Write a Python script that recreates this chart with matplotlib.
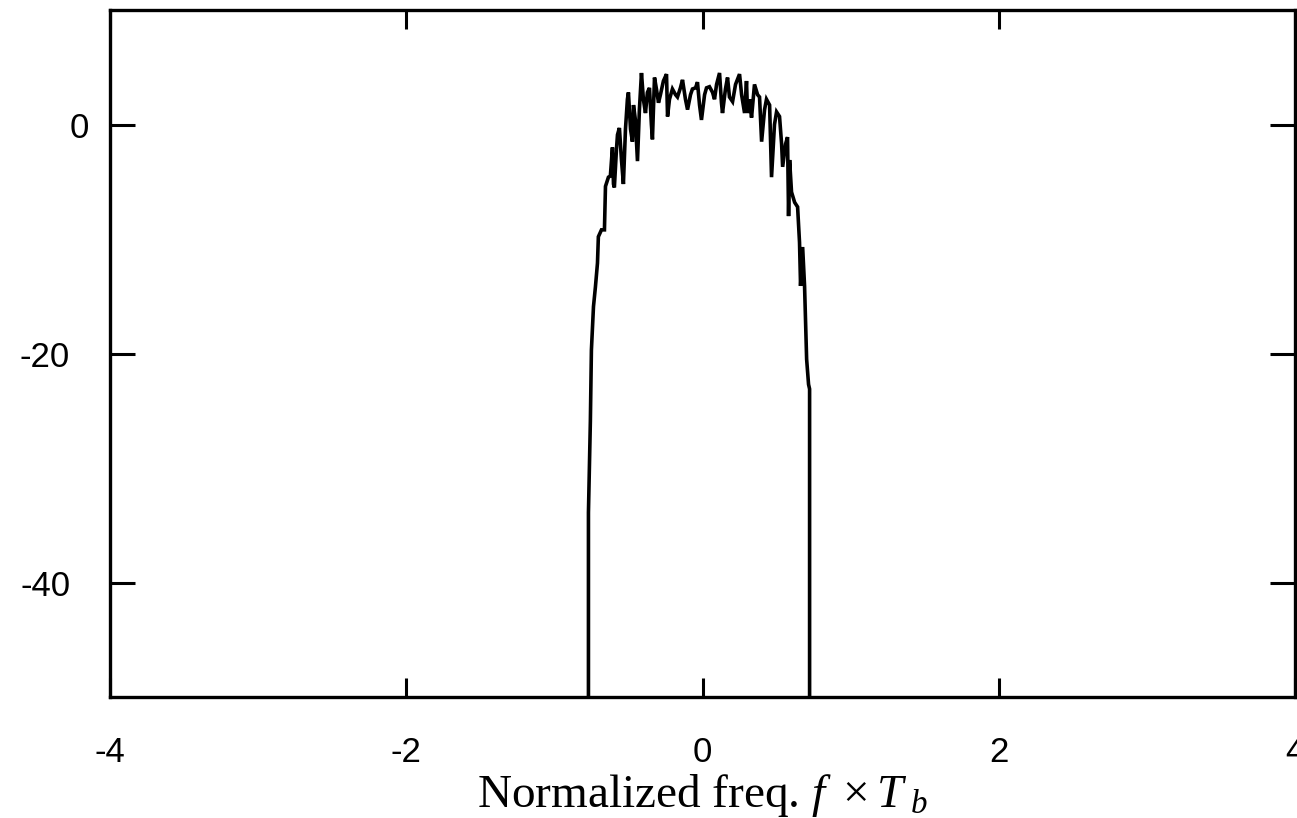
import numpy as np
import matplotlib.pyplot as plt
from matplotlib.transforms import ScaledTranslation

# spectrum (normalized freq, dB)
freq = [-0.770, -0.770, -0.757, -0.750, -0.736, -0.723, -0.709, -0.703, -0.682, -0.662,
        -0.655, -0.635, -0.622, -0.608, -0.601, -0.595, -0.581, -0.574, -0.561, -0.547,
        -0.534, -0.520, -0.507, -0.500, -0.486, -0.473, -0.466, -0.453, -0.439, -0.426,
        -0.412, -0.399, -0.385, -0.372, -0.358, -0.345, -0.338, -0.324, -0.311, -0.297,
        -0.284, -0.264, -0.243, -0.236, -0.223, -0.203, -0.182, -0.169, -0.149, -0.135,
        -0.115, -0.101, -0.081, -0.068, -0.047, -0.034, -0.020, -0.007, 0.014, 0.027,
        0.047, 0.068, 0.081, 0.095, 0.115, 0.128, 0.135, 0.155, 0.169, 0.182,
        0.203, 0.223, 0.250, 0.264, 0.284, 0.297, 0.304, 0.318, 0.331, 0.351,
        0.372, 0.385, 0.399, 0.419, 0.432, 0.453, 0.466, 0.486, 0.500, 0.520,
        0.534, 0.541, 0.561, 0.574, 0.581, 0.588, 0.601, 0.622, 0.642, 0.655,
        0.662, 0.676, 0.689, 0.696, 0.703, 0.716, 0.723, 0.723]
psd_db = [-60.0, -33.9, -25.9, -19.7, -15.9, -14.2, -12.1, -9.8, -9.2, -9.2,
          -5.4, -4.6, -4.5, -2.0, -5.2, -5.5, -2.2, -0.9, -0.3, -3.1,
          -5.2, -0.4, 2.2, 2.8, -0.4, -1.5, 1.7, 0.4, -3.2, 1.3,
          4.5, 2.2, 1.0, 2.8, 3.2, 0.0, -1.3, 4.1, 3.1, 1.9,
          2.6, 3.8, 4.4, 0.7, 2.2, 3.1, 2.6, 2.4, 3.2, 3.9,
          2.2, 1.3, 2.6, 3.1, 3.2, 3.7, 1.7, 0.4, 2.6, 3.2,
          3.3, 2.8, 2.2, 3.5, 4.5, 1.9, 1.0, 3.1, 4.1, 2.4,
          2.0, 3.5, 4.4, 2.6, 1.0, 3.8, 1.0, 2.2, 0.6, 3.5,
          2.6, 2.4, -1.5, 1.3, 2.2, 1.7, -4.6, 0.0, 1.1, 0.7,
          -1.7, -3.7, -1.7, -1.1, -8.0, -3.1, -5.9, -6.8, -7.2, -10.3,
          -14.1, -10.7, -14.1, -17.3, -20.5, -22.7, -23.1, -60.0]

xticks = [-4, -2, 0, 2, 4]
yticks = [-40, -20, 0]

plt.rcParams['mathtext.fontset'] = 'custom'
plt.rcParams['mathtext.rm'] = 'Liberation Serif'
plt.rcParams['mathtext.it'] = 'Liberation Serif:italic'

fig = plt.figure(figsize=(12.97, 8.18), dpi=100)
ax = fig.add_axes([110 / 1297, 121 / 818, 1185 / 1297, 687 / 818])

ax.plot(freq, psd_db, color='black', lw=2.6, solid_joinstyle='miter')

ax.set_xlim(-4, 4)
ax.set_ylim(-50, 10)
ax.set_xticks(xticks)
ax.set_yticks(yticks)
ax.set_xticklabels([str(t) for t in xticks], family='Liberation Sans', fontsize=25)
ax.set_yticklabels([str(t) for t in yticks], family='Liberation Sans', fontsize=25)
ax.tick_params(axis='x', direction='in', length=14, width=2.2, top=True, pad=28)
ax.tick_params(axis='y', direction='in', length=18, width=2.2, right=True, pad=15)
for s in ax.spines.values():
    s.set_linewidth(2.4)

# negative y labels sit further left in the original
for lab in ax.get_yticklabels():
    if lab.get_text().startswith('-'):
        lab.set_transform(lab.get_transform() + ScaledTranslation(-0.19, 0, fig.dpi_scale_trans))

ax.set_xlabel(r'Normalized freq. $f\ \times T_{\ b}$', family='Liberation Serif', fontsize=34, labelpad=2)

fig.savefig('out.png', dpi=100)
